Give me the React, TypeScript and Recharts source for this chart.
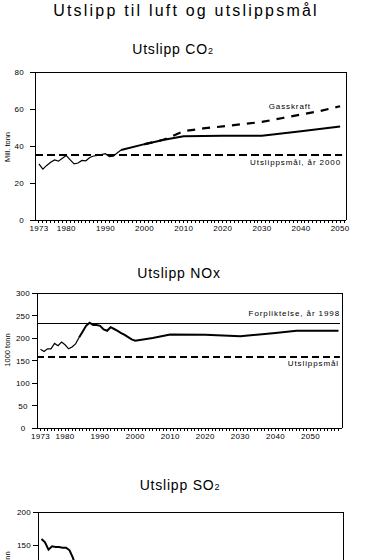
import React from 'react';
import { LineChart, Line, XAxis, YAxis, ReferenceLine } from 'recharts';

const FONT = "'Liberation Sans', Arial, Helvetica, sans-serif";

// ---------- tick labels ----------
const LABEL_YEARS = [1973, 1980, 1990, 2000, 2010, 2020, 2030, 2040, 2050];
const CO2_TICK_YEARS = Array.from({ length: 2051 - 1973 + 1 }, (_, i) => 1973 + i);
const NOX_TICK_YEARS = Array.from({ length: 2058 - 1973 + 1 }, (_, i) => 1973 + i);
const CO2_Y_TICKS = [0, 20, 40, 60, 80];
const NOX_Y_TICKS = [0, 50, 100, 150, 200, 250, 300];
const SO2_Y_TICKS = [0, 50, 100, 150, 200];

// ---------- CO2 (mill. tonn) ----------
const CO2_HIST_YEARS = [1973, 1974, 1975, 1976, 1977, 1978, 1979, 1980, 1981, 1982, 1983, 1984, 1985, 1986, 1987, 1988, 1989, 1990, 1991, 1992, 1993, 1994];
const CO2_HIST_VALUES = [30.3, 27.5, 29.5, 31.2, 32.5, 31.8, 33.4, 34.8, 32.5, 30.3, 30.8, 32.2, 32.0, 33.8, 34.6, 34.9, 35.3, 35.8, 34.2, 34.5, 36.2, 37.8];
const CO2_PROJ_YEARS = [1994, 2000, 2005, 2010, 2020, 2030, 2040, 2050];
const CO2_PROJ_VALUES = [37.8, 41.0, 43.4, 45.3, 45.5, 45.5, 48.0, 50.5];
const CO2_GAS_YEARS = [2000, 2005, 2010, 2015, 2020, 2025, 2030, 2035, 2040, 2045, 2050];
const CO2_GAS_VALUES = [41.0, 43.5, 48.0, 49.5, 50.6, 51.8, 53.0, 55.0, 57.0, 59.0, 61.5];
const CO2_TARGET = 35.2;
const CO2_TARGET_SPAN = [1972, 2050.5];

// ---------- NOx (1000 tonn) ----------
const NOX_EARLY_YEARS = [1973, 1974, 1975, 1976, 1977, 1978, 1979, 1980, 1981, 1982, 1983, 1984];
const NOX_EARLY_VALUES = [175, 170, 176, 176, 188, 183, 191, 185, 176, 180, 187, 201];
const NOX_MAIN_YEARS = [1984, 1985, 1986, 1987, 1988, 1989, 1990, 1991, 1992, 1993, 1994, 1995, 1996, 1997, 1998, 1999, 2000, 2005, 2010, 2020, 2030, 2040, 2046, 2058];
const NOX_MAIN_VALUES = [201, 214, 227, 234, 229, 229, 227, 219, 216, 224, 220, 216, 211, 207, 202, 197, 194, 200, 208, 207, 204, 211, 216, 216];
const NOX_COMMIT = 233;
const NOX_TARGET = 158;

// ---------- SO2 (1000 tonn) ----------
const SO2_YEARS = [1973, 1974, 1975, 1976, 1977, 1978, 1979, 1980, 1981, 1982, 1983, 1984, 1985, 1986, 1987, 1988, 1989, 1990, 1991, 1992, 1993, 1995, 2000, 2010, 2020, 2030, 2040, 2050];
const SO2_VALUES = [159, 154, 143, 148, 147, 147, 146, 146, 142, 130, 112, 100, 97, 92, 74, 66, 59, 53, 45, 37, 35, 34, 30, 28, 27, 27, 27, 27];

const zip = (xs: number[], ys: number[]) => xs.map((year, i) => ({ year, v: ys[i] }));

const co2Hist = zip(CO2_HIST_YEARS, CO2_HIST_VALUES);
const co2Proj = zip(CO2_PROJ_YEARS, CO2_PROJ_VALUES);
const co2Gas = zip(CO2_GAS_YEARS, CO2_GAS_VALUES);
const noxEarly = zip(NOX_EARLY_YEARS, NOX_EARLY_VALUES);
const noxMain = zip(NOX_MAIN_YEARS, NOX_MAIN_VALUES);
const so2 = zip(SO2_YEARS, SO2_VALUES);

const TXT = { fontFamily: FONT, fontSize: 8, fill: '#000' } as const;
const AX = { stroke: '#000', strokeWidth: 1, shapeRendering: 'crispEdges' } as any;

const xTick = (props: any) => {
  const { x, y, payload } = props;
  if (!LABEL_YEARS.includes(payload.value)) return <g />;
  return (
    <text x={x} y={y} dy={6} textAnchor="middle" {...TXT} letterSpacing={0.3}>
      {payload.value}
    </text>
  );
};
const leftTickEnd = (props: any) => (
  <text x={props.x} y={props.y} dy={3} textAnchor="end" {...TXT} letterSpacing={0.3}>
    {props.payload.value}
  </text>
);
const leftTickMid = (props: any) => (
  <text x={props.x - 7} y={props.y} dy={3} textAnchor="middle" {...TXT} letterSpacing={0.3}>
    {props.payload.value}
  </text>
);
const rightTick = (props: any) => (
  <text x={props.x + 4} y={props.y} dy={3} textAnchor="middle" {...TXT} letterSpacing={0.3}>
    {props.payload.value}
  </text>
);

const lineCommon = { dot: false, isAnimationActive: false, stroke: '#000', yAxisId: 'L' } as const;

export default function App() {
  return (
    <div style={{ position: 'absolute', left: 0, top: 0, width: 365, height: 560, overflow: 'hidden', background: '#fff' }}>
      {/* CO2 */}
      <div style={{ position: 'absolute', left: 0, top: 0 }}>
        <LineChart width={365} height={240} margin={{ top: 72, right: 0, bottom: 0, left: 0 }}>
          <XAxis dataKey="year" type="number" domain={[1972, 2051.5]} ticks={CO2_TICK_YEARS} interval={0}
            allowDataOverflow height={20} tickSize={3} axisLine={AX} tickLine={AX} tick={xTick} />
          <YAxis yAxisId="L" orientation="left" width={35} type="number" domain={[0, 80]} ticks={CO2_Y_TICKS}
            interval={0} tickSize={5} tickMargin={6} axisLine={AX} tickLine={AX} tick={leftTickEnd} />
          <YAxis yAxisId="R" orientation="right" width={19} type="number" domain={[0, 80]} ticks={CO2_Y_TICKS}
            interval={0} tickSize={3} axisLine={AX} tickLine={AX} tick={rightTick} />
          <ReferenceLine yAxisId="L" y={80} stroke="#000" shapeRendering="crispEdges" />
          <ReferenceLine yAxisId="L" segment={[{ x: CO2_TARGET_SPAN[0], y: CO2_TARGET }, { x: CO2_TARGET_SPAN[1], y: CO2_TARGET }]}
            stroke="#000" strokeWidth={2} strokeDasharray="8 4" />
          <Line {...lineCommon} data={co2Hist} dataKey="v" strokeWidth={1.2} />
          <Line {...lineCommon} data={co2Proj} dataKey="v" strokeWidth={2} />
          <Line {...lineCommon} data={co2Gas} dataKey="v" strokeWidth={2.2} strokeDasharray="8 7" />
        </LineChart>
      </div>

      {/* NOx */}
      <div style={{ position: 'absolute', left: 0, top: 240 }}>
        <LineChart width={365} height={210} margin={{ top: 53, right: 0, bottom: 0, left: 0 }}>
          <XAxis dataKey="year" type="number" domain={[1972, 2059]} ticks={NOX_TICK_YEARS} interval={0}
            allowDataOverflow height={22} tickSize={3} axisLine={AX} tickLine={AX} tick={xTick} />
          <YAxis yAxisId="L" orientation="left" width={37} type="number" domain={[0, 300]} ticks={NOX_Y_TICKS}
            interval={0} tickSize={5} axisLine={AX} tickLine={AX} tick={leftTickMid} />
          <YAxis yAxisId="R" orientation="right" width={23} type="number" domain={[0, 300]} ticks={NOX_Y_TICKS}
            interval={0} tickSize={3} axisLine={AX} tickLine={AX} tick={rightTick} />
          <ReferenceLine yAxisId="L" y={300} stroke="#000" shapeRendering="crispEdges" />
          <ReferenceLine yAxisId="L" segment={[{ x: 1972, y: NOX_COMMIT }, { x: 2058.4, y: NOX_COMMIT }]}
            stroke="#000" strokeWidth={1} shapeRendering="crispEdges" />
          <ReferenceLine yAxisId="L" segment={[{ x: 1972, y: NOX_TARGET }, { x: 2058.4, y: NOX_TARGET }]}
            stroke="#000" strokeWidth={2} strokeDasharray="7 4" />
          <Line {...lineCommon} data={noxEarly} dataKey="v" strokeWidth={1.2} />
          <Line {...lineCommon} data={noxMain} dataKey="v" strokeWidth={2} />
        </LineChart>
      </div>

      {/* SO2 */}
      <div style={{ position: 'absolute', left: 0, top: 450 }}>
        <LineChart width={365} height={216} margin={{ top: 62, right: 0, bottom: 0, left: 0 }}>
          <XAxis dataKey="year" type="number" domain={[1972, 2059]} ticks={NOX_TICK_YEARS} interval={0}
            allowDataOverflow height={22} tickSize={3} axisLine={AX} tickLine={AX} tick={xTick} />
          <YAxis yAxisId="L" orientation="left" width={38} type="number" domain={[0, 200]} ticks={SO2_Y_TICKS}
            interval={0} tickSize={5} axisLine={AX} tickLine={AX} tick={leftTickMid} />
          <YAxis yAxisId="R" orientation="right" width={22} type="number" domain={[0, 200]} ticks={SO2_Y_TICKS}
            interval={0} tickSize={3} axisLine={AX} tickLine={AX} tick={rightTick} />
          <ReferenceLine yAxisId="L" y={200} stroke="#000" shapeRendering="crispEdges" />
          <Line {...lineCommon} data={so2} dataKey="v" strokeWidth={2} />
        </LineChart>
      </div>

      {/* texts */}
      <svg width={365} height={560} style={{ position: 'absolute', left: 0, top: 0, pointerEvents: 'none' }}>
        <text x={186} y={16} textAnchor="middle" fontFamily={FONT} fontSize={16} letterSpacing={2.2} fill="#000">
          Utslipp til luft og utslippsmål
        </text>
        <text x={173} y={54} textAnchor="middle" fontFamily={FONT} fontSize={14} letterSpacing={0.8} fill="#000">
          Utslipp CO<tspan fontSize={9}>2</tspan>
        </text>
        <text x={179} y={278} textAnchor="middle" fontFamily={FONT} fontSize={14} letterSpacing={0.8} fill="#000">
          Utslipp NOx
        </text>
        <text x={180} y={490} textAnchor="middle" fontFamily={FONT} fontSize={14} letterSpacing={0.8} fill="#000">
          Utslipp SO<tspan fontSize={9}>2</tspan>
        </text>

        <text transform="translate(9.5,147) rotate(-90)" textAnchor="middle" fontFamily={FONT} fontSize={7.5} fill="#000">
          Mill. tonn
        </text>
        <text transform="translate(9.5,350) rotate(-90)" textAnchor="middle" fontFamily={FONT} fontSize={7.5} fill="#000">
          1000 tonn
        </text>
        <text transform="translate(9.5,568) rotate(-90)" textAnchor="middle" fontFamily={FONT} fontSize={7.5} fill="#000">
          1000 tonn
        </text>

        <text x={311} y={109} textAnchor="end" fontFamily={FONT} fontSize={8} letterSpacing={0.9} fill="#000">
          Gasskraft
        </text>
        <text x={341} y={165} textAnchor="end" fontFamily={FONT} fontSize={8} letterSpacing={0.9} fill="#000">
          Utslippsmål, år 2000
        </text>
        <text x={340} y={316} textAnchor="end" fontFamily={FONT} fontSize={8} letterSpacing={0.9} fill="#000">
          Forpliktelse, år 1998
        </text>
        <text x={339} y={366} textAnchor="end" fontFamily={FONT} fontSize={8} letterSpacing={0.9} fill="#000">
          Utslippsmål
        </text>
      </svg>
    </div>
  );
}
